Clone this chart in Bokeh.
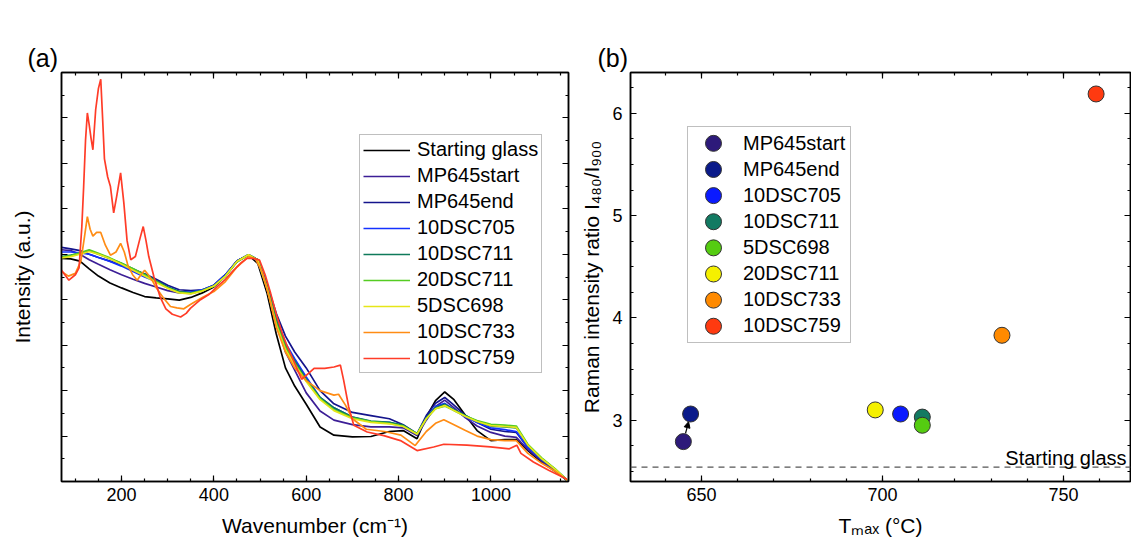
from bokeh.plotting import figure
from bokeh.layouts import row
from bokeh.models import (Range1d, LinearAxis, SingleIntervalTicker, Legend, LegendItem,
                          Span, Label, Arrow, NormalHead, CustomJSTickFormatter)
from bokeh.embed import file_html
from bokeh.resources import INLINE

FONT = "Liberation Sans"

# ---------------- data: panel (a) Raman spectra ----------------
wavenumber = [70, 90, 110, 130, 150, 175, 200, 225, 250, 275, 300, 325, 350, 375, 400,
              425, 450, 475, 495, 515, 535, 555, 575, 600, 630, 660, 700, 740, 780, 810,
              840, 860, 880, 900, 920, 945, 970, 1000, 1030, 1055, 1080, 1110, 1140, 1165]

starting_glass = [4.91, 4.90, 4.85, 4.68, 4.52, 4.37, 4.26, 4.16, 4.07, 4.04, 4.02, 3.99, 4.05, 4.15, 4.28,
                  4.52, 4.85, 4.98, 4.80, 4.15, 3.25, 2.50, 2.10, 1.70, 1.20, 1.02, 0.98, 0.99, 1.10, 1.12,
                  0.94, 1.42, 1.78, 1.97, 1.80, 1.45, 1.12, 0.90, 0.92, 0.92, 0.68, 0.42, 0.22, 0.02]
mp645start = [5.10, 5.08, 5.00, 4.88, 4.78, 4.66, 4.55, 4.45, 4.36, 4.28, 4.20, 4.15, 4.14, 4.20, 4.32,
              4.55, 4.85, 4.99, 4.85, 4.25, 3.50, 2.85, 2.45, 1.95, 1.55, 1.35, 1.25, 1.20, 1.20, 1.18,
              1.01, 1.35, 1.65, 1.79, 1.62, 1.40, 1.22, 1.08, 1.00, 0.97, 0.70, 0.45, 0.24, 0.03]
mp645end = [5.15, 5.12, 5.08, 5.00, 4.93, 4.85, 4.76, 4.66, 4.57, 4.45, 4.32, 4.22, 4.20, 4.22, 4.32,
            4.55, 4.85, 4.99, 4.88, 4.35, 3.70, 3.20, 2.85, 2.50, 2.00, 1.71, 1.52, 1.45, 1.38, 1.25,
            1.05, 1.45, 1.72, 1.85, 1.68, 1.45, 1.30, 1.15, 1.10, 1.08, 0.75, 0.48, 0.25, 0.03]
dsc705_10 = [5.05, 5.05, 5.03, 5.00, 4.93, 4.84, 4.74, 4.62, 4.50, 4.40, 4.28, 4.18, 4.17, 4.22, 4.32,
             4.55, 4.85, 4.99, 4.88, 4.35, 3.60, 3.05, 2.70, 2.30, 1.85, 1.62, 1.42, 1.32, 1.30, 1.22,
             1.04, 1.40, 1.65, 1.72, 1.58, 1.42, 1.30, 1.18, 1.14, 1.10, 0.75, 0.48, 0.25, 0.03]
dsc711_10 = [4.95, 4.98, 5.02, 5.08, 5.00, 4.90, 4.80, 4.68, 4.56, 4.42, 4.28, 4.18, 4.15, 4.20, 4.30,
             4.52, 4.83, 4.99, 4.88, 4.30, 3.55, 3.00, 2.65, 2.25, 1.85, 1.62, 1.42, 1.33, 1.30, 1.24,
             1.05, 1.40, 1.62, 1.70, 1.58, 1.45, 1.32, 1.22, 1.20, 1.18, 0.80, 0.50, 0.26, 0.03]
dsc711_20 = [4.93, 4.97, 5.03, 5.10, 5.02, 4.92, 4.80, 4.68, 4.55, 4.40, 4.26, 4.16, 4.14, 4.20, 4.30,
             4.52, 4.84, 4.99, 4.88, 4.28, 3.50, 2.95, 2.60, 2.22, 1.82, 1.58, 1.40, 1.32, 1.28, 1.22,
             1.05, 1.38, 1.60, 1.66, 1.56, 1.44, 1.34, 1.26, 1.24, 1.22, 0.82, 0.52, 0.27, 0.03]
dsc698_5 = [4.92, 4.95, 5.00, 5.06, 5.00, 4.90, 4.78, 4.65, 4.52, 4.38, 4.25, 4.15, 4.13, 4.19, 4.30,
            4.52, 4.84, 4.99, 4.87, 4.25, 3.45, 2.90, 2.57, 2.20, 1.80, 1.56, 1.38, 1.30, 1.27, 1.21,
            1.04, 1.38, 1.60, 1.67, 1.56, 1.43, 1.32, 1.23, 1.21, 1.19, 0.80, 0.50, 0.26, 0.03]

wavenumber_733 = [70, 85, 100, 112, 120, 126, 132, 138, 146, 155, 165, 176, 188, 198, 206, 214, 224,
                  234, 242, 250, 258, 266, 276, 290, 306, 320, 335, 350, 375, 400, 425, 450, 475,
                  490, 505, 520, 535, 555, 575, 600, 630, 660, 670, 685, 700, 730, 770, 805, 836,
                  860, 880, 898, 920, 945, 970, 1000, 1030, 1055, 1080, 1110, 1140, 1165]
dsc733_10 = [4.62, 4.52, 4.58, 4.85, 5.40, 5.83, 5.55, 5.40, 5.48, 5.48, 5.20, 4.98, 5.05, 5.24, 5.05,
             4.75, 4.55, 4.43, 4.55, 4.65, 4.55, 4.43, 4.25, 4.05, 3.85, 3.82, 3.80, 3.90, 4.05, 4.18,
             4.40, 4.72, 4.95, 4.90, 4.60, 4.05, 3.40, 2.85, 2.50, 2.22, 2.00, 1.90, 1.92, 1.68, 1.38,
             1.15, 1.10, 1.02, 0.79, 1.10, 1.28, 1.36, 1.25, 1.12, 1.00, 0.92, 0.90, 0.90, 0.62, 0.40,
             0.22, 0.03]

wavenumber_759 = [70, 86, 100, 108, 114, 118, 122, 126, 130, 134, 138, 144, 150, 155, 159, 163, 170,
                  176, 183, 190, 198, 205, 212, 220, 230, 240, 247, 253, 259, 270, 284, 296, 310,
                  328, 340, 349, 371, 390, 407, 425, 443, 460, 472, 486, 499, 511, 523, 536, 548,
                  560, 572, 590, 605, 617, 640, 660, 674, 681, 692, 703, 732, 768, 804, 840, 876,
                  898, 948, 999, 1040, 1056, 1065, 1092, 1125, 1165]
dsc759_10 = [4.65, 4.43, 4.55, 4.70, 5.60, 6.49, 7.50, 8.11, 7.85, 7.55, 7.30, 8.18, 8.65, 8.85, 8.00,
             7.10, 6.70, 6.49, 5.91, 6.30, 6.79, 6.13, 5.30, 4.88, 4.95, 5.35, 5.61, 5.30, 4.95, 4.51,
             4.05, 3.80, 3.68, 3.62, 3.70, 3.81, 4.00, 4.12, 4.29, 4.45, 4.65, 4.82, 4.91, 4.91, 4.87,
             4.55, 4.14, 3.65, 3.26, 2.95, 2.67, 2.25, 2.38, 2.49, 2.49, 2.52, 2.56, 2.23, 1.64, 1.24,
             1.09, 1.01, 0.90, 0.68, 0.76, 0.82, 0.80, 0.76, 0.72, 0.80, 0.62, 0.43, 0.25, 0.05]

spectra_names = ["Starting glass", "MP645start", "MP645end", "10DSC705", "10DSC711",
                 "20DSC711", "5DSC698", "10DSC733", "10DSC759"]
spectra_colors = ["#000000", "#3c1e96", "#14148c", "#1432ff", "#0f7a5a",
                  "#55cc22", "#e6e619", "#ff8c14", "#ff3c28"]

# ---------------- data: panel (b) intensity ratio ----------------
samples_b = ["MP645start", "MP645end", "10DSC705", "10DSC711", "5DSC698", "20DSC711",
             "10DSC733", "10DSC759"]
tmax_b = [645, 647, 705, 711, 711, 698, 733, 759]
ratio_b = [2.79, 3.06, 3.06, 3.03, 2.95, 3.10, 3.83, 6.19]
colors_b = ["#2d1a7a", "#0a1a8a", "#0a1aff", "#127a62", "#55cc11", "#f5f000", "#ff8a00", "#ff3a10"]
starting_glass_ratio = 2.54

EMPTY = "return ''"


def style_axis(ax, major_in, minor_in, labels=True):
    ax.major_tick_in = major_in
    ax.major_tick_out = 0
    ax.minor_tick_in = minor_in
    ax.minor_tick_out = 0
    ax.axis_line_width = 1.5
    ax.axis_line_color = "black"
    ax.major_tick_line_width = 1.2
    ax.minor_tick_line_width = 1.2
    ax.major_tick_line_color = "black"
    ax.minor_tick_line_color = "black"
    ax.major_label_text_font = FONT
    ax.major_label_text_color = "black"
    if labels:
        ax.major_label_text_font_size = "18px"
    else:
        ax.formatter = CustomJSTickFormatter(code=EMPTY)
        ax.major_label_text_font_size = "1px"
        ax.major_label_standoff = 0
    ax.axis_label_text_font = FONT
    ax.axis_label_text_font_size = "21px"
    ax.axis_label_text_font_style = "normal"
    ax.axis_label_text_color = "black"


def make_fig(width, xr, yr, mbl, mbr, title, toff, xticker, yticker, ylabels):
    p = figure(width=width, height=541, x_range=xr, y_range=yr, title=title,
               output_backend="svg", toolbar_location=None,
               min_border_left=mbl, min_border_right=mbr, min_border_top=72, min_border_bottom=60)
    p.background_fill_color = "white"
    p.border_fill_color = "white"
    p.outline_line_color = "black"
    p.outline_line_width = 1.5
    p.xgrid.visible = False
    p.ygrid.visible = False
    p.title.align = "left"
    p.title.offset = toff
    p.title.text_font = FONT
    p.title.text_font_size = "25px"
    p.title.text_font_style = "normal"
    p.title.text_color = "black"
    p.title.standoff = 1
    bottom = p.xaxis[0]
    left = p.yaxis[0]
    bottom.ticker = xticker
    left.ticker = yticker
    style_axis(bottom, 6, 3)
    style_axis(left, 6, 3, labels=ylabels)
    bottom.major_label_standoff = 6
    top = LinearAxis(ticker=xticker)
    style_axis(top, 6, 3, labels=False)
    p.add_layout(top, "above")
    right = LinearAxis(ticker=yticker)
    style_axis(right, 6, 3, labels=False)
    p.add_layout(right, "right")
    return p, bottom, left


# ---------------- panel (a) ----------------
xt_a = SingleIntervalTicker(interval=200, num_minor_ticks=4)
yt_a = SingleIntervalTicker(interval=1, num_minor_ticks=2)
pa, bottom_a, left_a = make_fig(575, Range1d(70, 1168), Range1d(0, 9), 61, 7, "(a)", -34,
                                xt_a, yt_a, False)
bottom_a.axis_label = "Wavenumber (cm\u207b\u00b9)"
bottom_a.axis_label_standoff = 10
left_a.axis_label = "Intensity (a.u.)"
left_a.axis_label_standoff = 28

series = [(wavenumber, starting_glass), (wavenumber, mp645start), (wavenumber, mp645end),
          (wavenumber, dsc705_10), (wavenumber, dsc711_10), (wavenumber, dsc711_20),
          (wavenumber, dsc698_5), (wavenumber_733, dsc733_10), (wavenumber_759, dsc759_10)]
items_a = []
for (xs, ys), name, col in zip(series, spectra_names, spectra_colors):
    r = pa.line(xs, ys, line_color=col, line_width=1.7)
    items_a.append(LegendItem(label=name, renderers=[r]))

leg_a = Legend(items=items_a, location=(298, 108), label_text_font=FONT,
               label_text_font_size="20px", label_text_color="black",
               glyph_width=47, glyph_height=20, label_height=20, spacing=3,
               padding=3, margin=0, label_standoff=7,
               border_line_color="#808080", border_line_width=1,
               background_fill_color="white", background_fill_alpha=1)
pa.add_layout(leg_a)

# ---------------- panel (b) ----------------
xt_b = SingleIntervalTicker(interval=50, num_minor_ticks=5)
yt_b = SingleIntervalTicker(interval=1, num_minor_ticks=4)
pb, bottom_b, left_b = make_fig(556, Range1d(630.4, 768.5), Range1d(2.4, 6.4), 55, 1, "(b)", -33,
                                xt_b, yt_b, True)
bottom_b.axis_label = "T\u2098\u2090\u2093 (\u00b0C)"
bottom_b.axis_label_standoff = 10
left_b.axis_label = "Raman intensity ratio I\u2084\u2088\u2080/I\u2089\u2080\u2080"
left_b.axis_label_standoff = 6
left_b.major_label_standoff = 8

pb.add_layout(Span(location=starting_glass_ratio, dimension="width", line_color="#555555",
                   line_width=1.2, line_dash="6 5"))
pb.add_layout(Label(x=pb.x_range.end, y=starting_glass_ratio, x_offset=-4, y_offset=9,
                    text="Starting glass", text_align="right", text_baseline="alphabetic",
                    text_font=FONT, text_font_size="20px", text_color="black"))

# arrow MP645start -> MP645end
x0, y0, x1, y1 = tmax_b[0], ratio_b[0], tmax_b[1], ratio_b[1]
pb.add_layout(Arrow(end=NormalHead(size=6, fill_color="black", line_color="black"),
                    x_start=x0 + 0.3 * (x1 - x0), y_start=y0 + 0.3 * (y1 - y0),
                    x_end=x0 + 0.72 * (x1 - x0), y_end=y0 + 0.72 * (y1 - y0),
                    line_color="black", line_width=1.2, level="underlay"))

for t, rv, col in zip(tmax_b, ratio_b, colors_b):
    pb.scatter([t], [rv], marker="circle", size=16, fill_color=col,
               line_color="#333333", line_width=1)

# legend (b): text entries from a Legend, circles drawn at the legend rows
LEG_X, LEG_Y_TOP, PAD, GW, PITCH, ROW_H = 57, 54, 5, 42, 26, 23
xr_b, yr_b = pb.x_range, pb.y_range
ppx = 500.0 / (xr_b.end - xr_b.start)
ppy = 407.0 / (yr_b.end - yr_b.start)
items_b = []
for i, (name, col) in enumerate(zip(samples_b, colors_b)):
    dummy = pb.scatter([], [], marker="circle", size=1, fill_alpha=0, line_alpha=0)
    items_b.append(LegendItem(label=name, renderers=[dummy]))
    lx = xr_b.start + (LEG_X + PAD + GW / 2) / ppx
    ly = yr_b.end - (LEG_Y_TOP + PAD + ROW_H / 2 + PITCH * i) / ppy
    pb.scatter([lx], [ly], marker="circle", size=16, fill_color=col,
               line_color="#333333", line_width=1)
n_b = len(samples_b)
leg_h = 2 * PAD + n_b * ROW_H + (n_b - 1) * (PITCH - ROW_H)
leg_b = Legend(items=items_b, location=(LEG_X, 407 - LEG_Y_TOP - leg_h), label_text_font=FONT,
               label_text_font_size="20px", label_text_color="black",
               glyph_width=GW, glyph_height=20, label_height=20, spacing=PITCH - ROW_H,
               padding=PAD, margin=0, label_standoff=8,
               border_line_color="#808080", border_line_width=1, background_fill_alpha=0)
pb.add_layout(leg_b)

layout = row(pa, pb)
open("out.html", "w").write(file_html(layout, INLINE))
